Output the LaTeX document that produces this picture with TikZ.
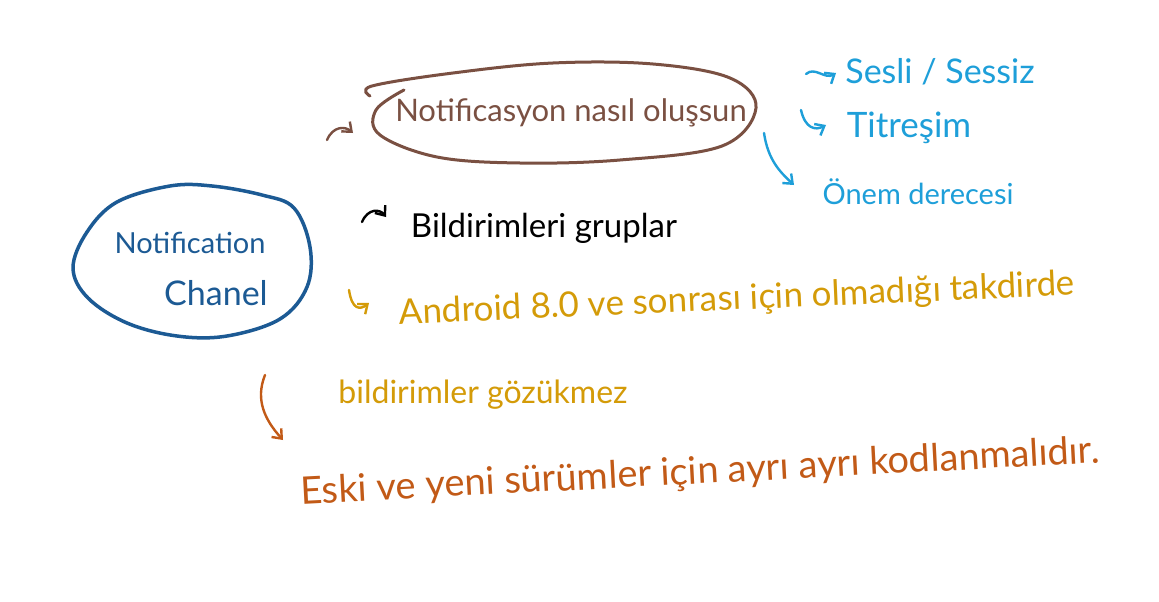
\documentclass[tikz,border=0pt]{standalone}
\usepackage{fontspec}
\setmainfont{Lato}
\usetikzlibrary{arrows.meta}
\definecolor{dblue}{HTML}{1C5A94}
\definecolor{brn}{HTML}{7A5042}
\definecolor{lblue}{HTML}{1E9FD9}
\definecolor{gold}{HTML}{D49B08}
\definecolor{rust}{HTML}{C25A17}
\newcommand{\fs}[1]{\fontsize{#1}{#1}\selectfont}
\tikzset{
  hand/.style={line cap=round, line join=round},
  arr/.style={hand, line width=2.4pt, -{Straight Barb[length=8pt,width=13pt,line width=2.4pt]}},
  txt/.style={inner sep=0pt},
}
\begin{document}
\begin{tikzpicture}[x=1pt,y=-1pt]
\useasboundingbox (0,0) rectangle (1159,602);
\fill[white] (0,0) rectangle (1159,602);

% blue ellipse
\draw[dblue, hand, line width=3.5pt] plot[smooth cycle, tension=0.6] coordinates {
 (87,232) (117,202) (170,186) (212,186) (262,195) (294,208) (310,247) (307,287)
 (280,319) (227,336) (177,336) (127,323) (88,298) (73,268)};
\node[txt, dblue, font=\fs{29}] (nc1) at (190,243) {Notification};
\node[txt, dblue, font=\fs{34}] (nc2) at (216,293) {Chanel};

% brown ellipse
\draw[brn, hand, line width=3pt] plot[smooth, tension=0.6] coordinates {
 (370,96) (372,86) (453,73) (553,63) (653,64) (730,78) (756,108) (722,146)
 (620,160) (520,163) (437,157) (380,135) (376,110) (404,90)};
\node[txt, brn, font=\fs{31}] (nasil) at (571,113) {Notificasyon nasıl oluşsun};
\coordinate (b1) at (327,140);
\coordinate (b2) at (353,133);
\draw[arr, brn] (b1) .. controls (333,126) and (345,126) .. (b2);

% light blue items
\node[txt, lblue, font=\fs{34}] (ses) at (940,72) {Sesli / Sessiz};
\node[txt, lblue, font=\fs{35}] (tit) at (909,128) {Titreşim};
\node[txt, lblue, font=\fs{29}] (onem) at (918,192) {Önem derecesi};
\coordinate (l1) at (806,74);
\coordinate (l2) at (836,73);
\draw[arr, lblue] (l1) .. controls (815,66) and (825,80) .. (l2);
\coordinate (l3) at (801,110);
\coordinate (l4) at (826,125);
\draw[arr, lblue] (l3) .. controls (805,128) and (815,131) .. (l4);
\coordinate (l5) at (764,133);
\coordinate (l6) at (794,185);
\draw[arr, lblue] (l5) .. controls (768,160) and (780,172) .. (l6);

% black
\node[txt, black, font=\fs{33}] (grup) at (544,228) {Bildirimleri gruplar};
\coordinate (k1) at (362,222);
\coordinate (k2) at (386,217);
\draw[arr, black] (k1) .. controls (368,208) and (380,209) .. (k2);

% gold
\node[txt, gold, rotate=2.5, font=\fs{35}] (andr) at (737,300) {Android 8.0 ve sonrası için olmadığı takdirde};
\node[txt, gold, font=\fs{32}] (gozuk) at (483,395) {bildirimler gözükmez};
\coordinate (g1) at (349,290);
\coordinate (g2) at (369,303);
\draw[arr, gold] (g1) .. controls (352,310) and (360,310) .. (g2);

% rust
\node[txt, rust, rotate=3, font=\fs{38}] (eski) at (700,473) {Eski ve yeni sürümler için ayrı ayrı kodlanmalıdır.};
\coordinate (r1) at (265,375);
\coordinate (r2) at (283,440);
\draw[arr, rust] (r1) .. controls (255,400) and (265,420) .. (r2);
\end{tikzpicture}
\end{document}
